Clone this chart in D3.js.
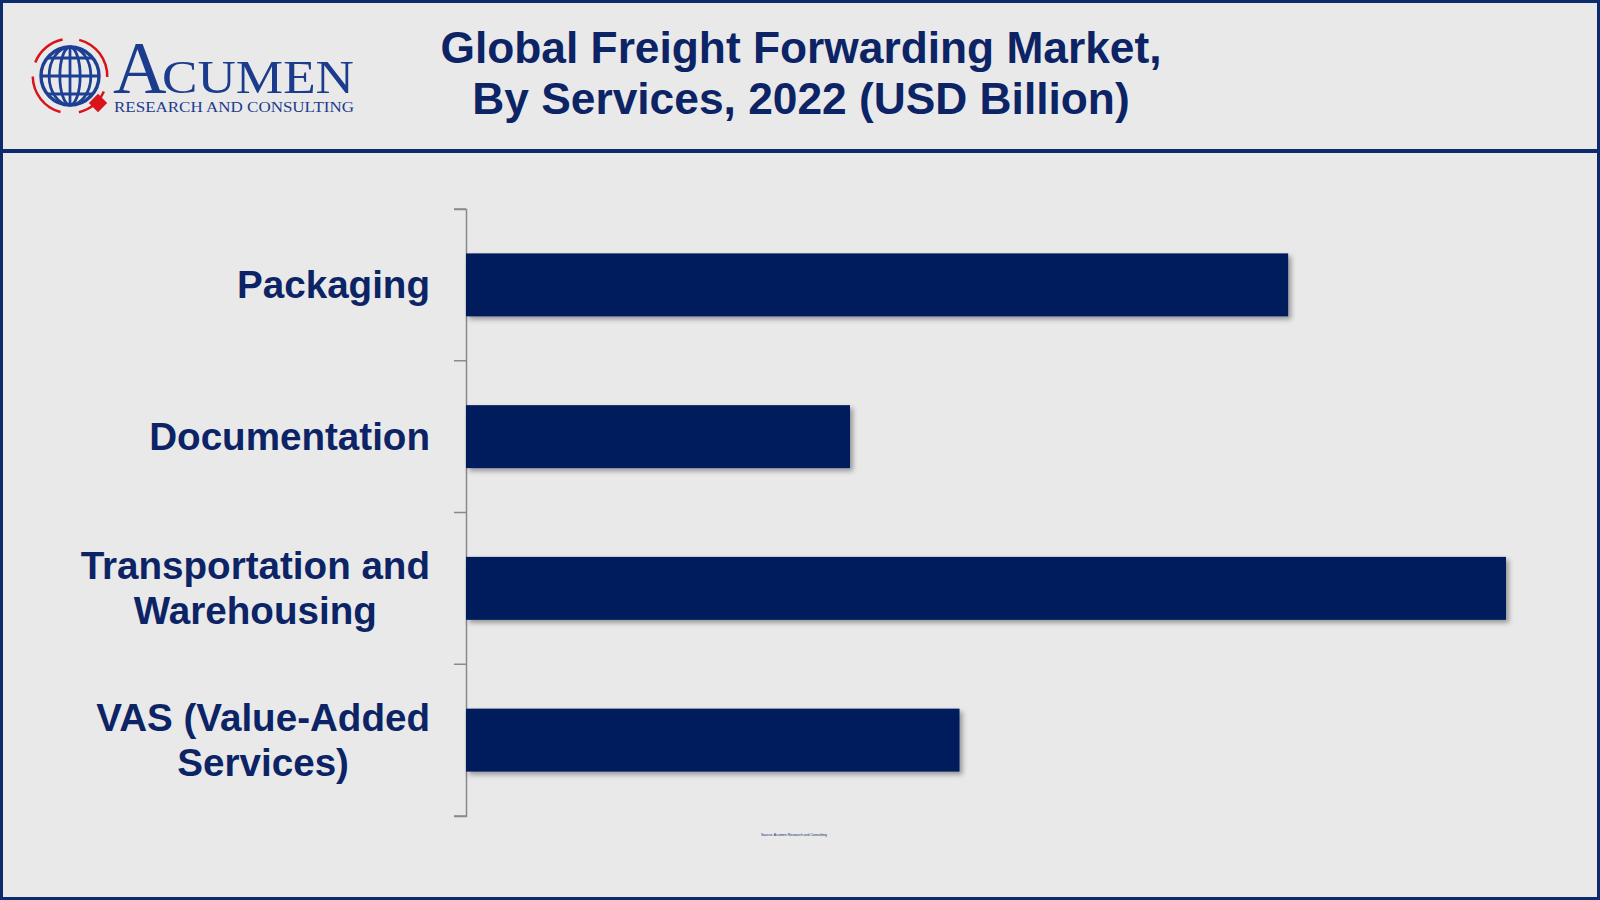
<!DOCTYPE html>
<html><head><meta charset="utf-8">
<script src="https://cdn.jsdelivr.net/npm/d3@7/dist/d3.min.js"></script>
<style>html,body{margin:0;padding:0;background:#e9e9e9;}svg{display:block;}</style>
</head><body>
<svg id="c" width="1600" height="900"></svg>
<script>
const categories = [["Packaging"], ["Documentation"], ["Transportation and", "Warehousing"], ["VAS (Value-Added", "Services)"]];
const values = [66.8, 31.2, 84.5, 40.1];
const titleLines = ["Global Freight Forwarding Market,", "By Services, 2022 (USD Billion)"];
const sourceText = "Source: Acumen Research and Consulting";

const W = 1600, H = 900;
const navy = "#0c2466", barColor = "#001e5c", border = "#0d2a6b";
const svg = d3.select("#c");
const defs = svg.append("defs");
const f = defs.append("filter").attr("id","sh").attr("x","-5%").attr("y","-20%").attr("width","115%").attr("height","160%");
f.append("feDropShadow").attr("dx",3).attr("dy",3).attr("stdDeviation",2.5).attr("flood-color","#000").attr("flood-opacity",0.35);

svg.append("rect").attr("width",W).attr("height",H).attr("fill","#e9e9e9");
// frame
svg.append("rect").attr("x",1.5).attr("y",1.5).attr("width",W-3).attr("height",H-3).attr("fill","none").attr("stroke",border).attr("stroke-width",3);
svg.append("rect").attr("x",0).attr("y",149).attr("width",W).attr("height",4).attr("fill",border);

// logo
const lg = svg.append("g");
const cx = 70, cy = 76, r = 29;
const globeC = "#1d3f94";
lg.append("circle").attr("cx",cx).attr("cy",cy).attr("r",r).attr("fill","none").attr("stroke",globeC).attr("stroke-width",3.4);
[-0.62,0,0.62].forEach(k=>{
  const yy = cy + k*r; const hw = Math.sqrt(r*r-(k*r)*(k*r));
  lg.append("line").attr("x1",cx-hw).attr("x2",cx+hw).attr("y1",yy).attr("y2",yy).attr("stroke",globeC).attr("stroke-width",2.8);
});
[0.35,0.72].forEach(k=>{
  lg.append("ellipse").attr("cx",cx).attr("cy",cy).attr("rx",r*k).attr("ry",r).attr("fill","none").attr("stroke",globeC).attr("stroke-width",2.8);
});
lg.append("line").attr("x1",cx).attr("x2",cx).attr("y1",cy-r).attr("y2",cy+r).attr("stroke",globeC).attr("stroke-width",2.8);
const arc = d3.arc().innerRadius(36).outerRadius(38.5);
[[-1.2,-0.2],[0.25,1.6],[2.0,2.9],[3.4,4.7]].forEach(([a,b])=>{
  lg.append("path").attr("d",arc({startAngle:a,endAngle:b})).attr("transform",`translate(${cx},${cy})`).attr("fill","#d9121b");
});
lg.append("rect").attr("x",-6.5).attr("y",-6.5).attr("width",13).attr("height",13).attr("fill","#d9121b").attr("transform","translate(98,103) rotate(45)");
lg.append("text").attr("x",113).attr("y",93).attr("font-family","Liberation Serif, serif").attr("font-size",74).attr("fill","#1b3b8c").text("A");
lg.append("text").attr("x",162).attr("y",93).attr("font-family","Liberation Serif, serif").attr("font-size",47).attr("fill","#1b3b8c").attr("textLength",192).attr("lengthAdjust","spacingAndGlyphs").text("CUMEN");
lg.append("text").attr("x",114).attr("y",112).attr("font-family","Liberation Serif, serif").attr("font-size",14).attr("fill","#1b3b8c").attr("textLength",240).attr("lengthAdjust","spacingAndGlyphs").text("RESEARCH AND CONSULTING");

// title
const tg = svg.append("g").attr("font-family","Liberation Sans, Arial, sans-serif").attr("font-weight","bold").attr("font-size",44.3).attr("fill",navy).attr("text-anchor","middle");
titleLines.forEach((t,i)=>tg.append("text").attr("x",801).attr("y",63+i*51).text(t));

// chart
const x0 = 466;
const x = d3.scaleLinear().domain([0,90]).range([x0, x0 + 1040/84.5*90]);
const y = d3.scaleBand().domain(d3.range(categories.length)).range([209,816]).paddingInner(0.585).paddingOuter(0.2925);

svg.append("g").attr("transform",`translate(${x0},0)`)
  .call(d3.axisLeft(y).tickValues([]).tickSizeOuter(12))
  .call(g=>g.select(".domain").attr("stroke","#8a8a8a").attr("stroke-width",1.5));
const tickYs = d3.range(categories.length+1).map(i=>209 + i*(816-209)/categories.length);
svg.append("g").selectAll("line").data(tickYs).join("line")
  .attr("x1",x0-12).attr("x2",x0).attr("y1",d=>d).attr("y2",d=>d).attr("stroke","#8a8a8a").attr("stroke-width",1.5);

svg.append("g").selectAll("rect").data(values).join("rect")
  .attr("x",x(0)).attr("y",(d,i)=>y(i)).attr("width",d=>x(d)-x(0)).attr("height",y.bandwidth())
  .attr("fill",barColor).attr("filter","url(#sh)");

const lab = svg.append("g").attr("font-family","Liberation Sans, Arial, sans-serif").attr("font-weight","bold").attr("font-size",38.6).attr("fill",navy);
categories.forEach((lines,i)=>{
  const cyb = y(i)+y.bandwidth()/2;
  const t = lab.append("text").attr("text-anchor","middle");
  const n = lines.length, lh = 45;
  lines.forEach((s,j)=>t.append("tspan").attr("x",0).attr("y",cyb + (j-(n-1)/2)*lh + 13).text(s));
  const bb = t.node().getBBox();
  const cxl = 430 - bb.width/2;
  t.selectAll("tspan").attr("x",cxl);
});

svg.append("text").attr("x",794).attr("y",836).attr("text-anchor","middle").attr("font-family","Liberation Sans, Arial, sans-serif").attr("font-size",3.5).attr("fill",navy).text(sourceText);
</script>
</body></html>
